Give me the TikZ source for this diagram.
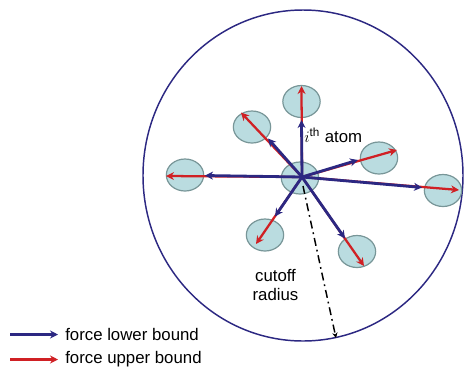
\documentclass[tikz,border=0pt]{standalone}
\usepackage{fontspec}
\setmainfont{Liberation Sans}
\usepackage{tikz}
\usetikzlibrary{arrows.meta, shapes.geometric}

\definecolor{navy}{RGB}{44,40,130}
\definecolor{fred}{RGB}{208,32,36}
\definecolor{atomfill}{RGB}{186,220,224}
\definecolor{atomline}{RGB}{120,150,152}

\begin{document}
\begin{tikzpicture}[x=0.75pt, y=-0.75pt,
    atom/.style={ellipse, draw=atomline, fill=atomfill, line width=0.9pt,
        minimum width=28pt, minimum height=24pt, inner sep=0pt},
    lower/.style={draw=navy, line width=2.1pt, -{Stealth[length=6pt, width=6pt]}},
    upper/.style={draw=fred, line width=1.7pt, -{Stealth[length=6pt, width=6pt]}},
    lbl/.style={font=\fontsize{12.6}{14.5}\selectfont}]

        \useasboundingbox (0,0) rectangle (465,369);

        \draw[navy, line width=1.1pt] (303,175.5) ellipse [x radius=160, y radius=165.5];

        \node[atom] (ai) at (300,178) {};
        \node[atom] (a1) at (301.5,101.5) {};
        \node[atom] (a2) at (252,127) {};
        \node[atom] (a3) at (185,175) {};
        \node[atom] (a4) at (379,158) {};
        \node[atom] (a5) at (443,190.5) {};
        \node[atom] (a6) at (265,235) {};
        \node[atom] (a7) at (357,251.5) {};

        \coordinate (o) at (302,177);

        % red tips
        \coordinate (r1) at (301.5,86);
        \coordinate (r2) at (241,112.5);
        \coordinate (r3) at (166,176);
        \coordinate (r4) at (397,150);
        \coordinate (r5) at (459,190);
        \coordinate (r6) at (256,244);
        \coordinate (r7) at (364,266);

        % blue tips
        \coordinate (b1) at (301.5,120);
        \coordinate (b2) at (268,138.5);
        \coordinate (b3) at (205,175.5);
        \coordinate (b4) at (358,160);
        \coordinate (b5) at (422,187.5);
        \coordinate (b6) at (275,216.5);
        \coordinate (b7) at (345,238.5);

        \foreach \k in {1,...,7} {
            \draw[upper] (o) -- (r\k);
        }
        \foreach \k in {1,...,7} {
            \draw[lower] (o) -- (b\k);
        }

        \node[lbl, anchor=base west, inner sep=0pt] (ith) at (304,142) {$i$\textsuperscript{th} atom};

        \coordinate (rc) at (336,338);
        \draw[black, line width=1.1pt, dash pattern={on 6pt off 3pt on 1.3pt off 3pt},
            -{Stealth[length=4pt, width=4pt]}] (303,186) -- (rc);
        \node[lbl, align=center, inner sep=0pt] (cut) at (275.5,285) {cutoff\\radius};

        \coordinate (lb0) at (10,334.5);
        \coordinate (lb1) at (58,334.5);
        \coordinate (lr0) at (10,359.5);
        \coordinate (lr1) at (58,359.5);
        \draw[lower] (lb0) -- (lb1);
        \draw[upper] (lr0) -- (lr1);
        \node[lbl, anchor=west, inner sep=0pt] (klow) at (65,334.5) {force lower bound};
        \node[lbl, anchor=west, inner sep=0pt] (kup) at (65,359.5) {force upper bound};

    \end{tikzpicture}
\end{document}
